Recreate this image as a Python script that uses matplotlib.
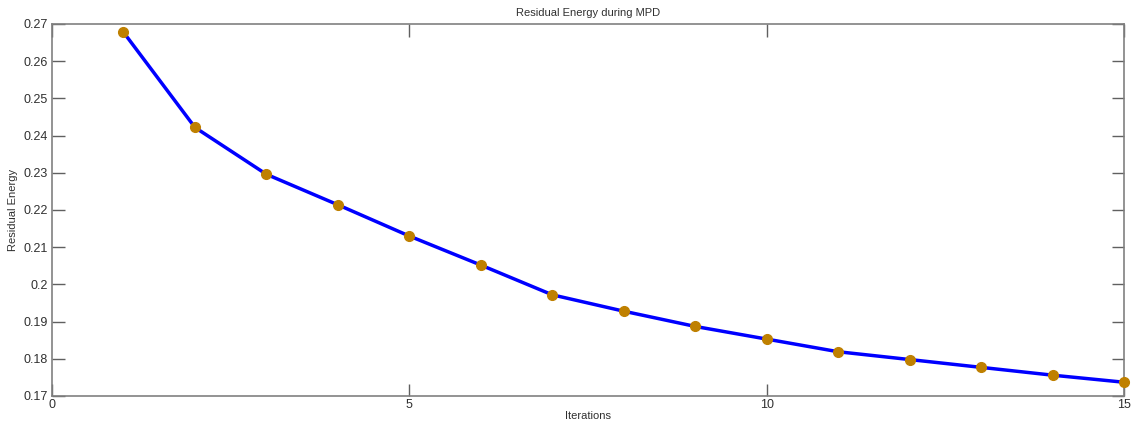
import matplotlib
matplotlib.use('Agg')
import matplotlib.pyplot as plt

iterations = list(range(1, 16))
residual = [0.2678, 0.2422, 0.2296, 0.2214, 0.2130, 0.2052, 0.1972, 0.1928,
            0.1887, 0.1853, 0.1819, 0.1798, 0.1777, 0.1756, 0.1737]

plt.rcParams['font.family'] = ['Liberation Sans', 'DejaVu Sans']

fig = plt.figure(figsize=(11.45, 4.29), dpi=100)
ax = fig.add_axes([52 / 1145, 1 - 396 / 429, (1124 - 52) / 1145, (396 - 24) / 429])

ax.plot(iterations, residual, color='#0000ff', linewidth=2.5, zorder=2)
ax.plot(iterations, residual, 'o', color='#bf8000', markersize=7, zorder=3,
        clip_on=False)

ax.set_xlim(0, 15)
ax.set_ylim(0.17, 0.27)
ax.set_xticks([0, 5, 10, 15])
ax.set_yticks([0.17 + 0.01 * i for i in range(11)])
ax.set_yticklabels(['0.17', '0.18', '0.19', '0.2', '0.21', '0.22', '0.23',
                    '0.24', '0.25', '0.26', '0.27'])

for s in ax.spines.values():
    s.set_color('#808080')
    s.set_linewidth(1.2)
ax.tick_params(direction='in', length=9, width=1, color='#606060',
               labelsize=9, labelcolor='#303030', top=True, right=True, pad=3)
ax.tick_params(axis='x', pad=2)

ax.set_xlabel('Iterations', fontsize=8, color='#303030', labelpad=0)
ax.set_ylabel('Residual Energy', fontsize=8, color='#303030', labelpad=4)
ax.set_title('Residual Energy during MPD', fontsize=8, color='#303030', pad=6)

fig.savefig('out.png', dpi=100)
